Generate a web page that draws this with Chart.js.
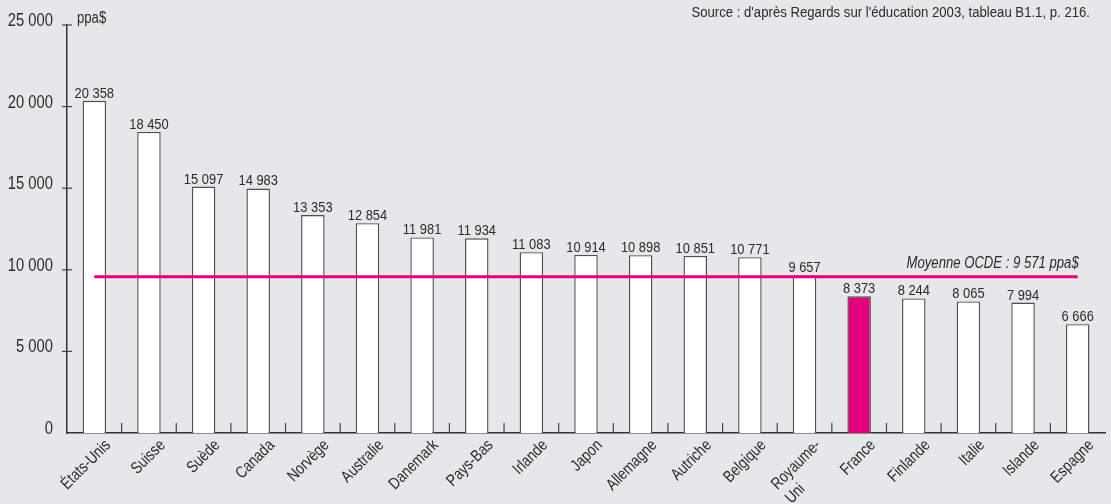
<!DOCTYPE html>
<html lang="fr">
<head>
<meta charset="utf-8">
<script src="https://cdn.jsdelivr.net/npm/chart.js@4/dist/chart.umd.min.js"></script>
<style>
  html, body { margin: 0; padding: 0; background: #e6e7e9; }
  #wrap { width: 1111px; height: 504px; position: relative; }
</style>
</head>
<body>
<div id="wrap"><canvas id="c" width="1111" height="504"></canvas></div>
<script>
const categories = ['États-Unis','Suisse','Suède','Canada','Norvège','Australie','Danemark','Pays-Bas','Irlande','Japon','Allemagne','Autriche','Belgique',['Royaume-','Uni'],'France','Finlande','Italie','Islande','Espagne'];
const values = [20358, 18450, 15097, 14983, 13353, 12854, 11981, 11934, 11083, 10914, 10898, 10851, 10771, 9657, 8373, 8244, 8065, 7994, 6666];
const highlighted = 'France';
const oecdAverage = 9571;
const averageLabel = 'Moyenne OCDE : 9 571 ppa$';
const yTicks = [0, 5000, 10000, 15000, 20000, 25000];
const unitLabel = 'ppa$';
const sourceText = "Source : d'après Regards sur l'éducation 2003, tableau B1.1, p. 216.";

const FONT = "'Liberation Sans', Arial, sans-serif";
const NARROW = 0.82;           // horizontal condensation to mimic a narrow face
const MAGENTA = '#e5007d';
const TEXT = '#2b2b2b';
const fmt = n => String(n).replace(/\B(?=(\d{3})+(?!\d))/g, ' ');

// draw condensed text at (x,y), optional rotation (radians)
function ntext(ctx, str, x, y, opts) {
  ctx.save();
  ctx.font = opts.font;
  ctx.textAlign = opts.align || 'left';
  ctx.textBaseline = opts.baseline || 'alphabetic';
  ctx.fillStyle = opts.color || TEXT;
  ctx.translate(x, y);
  if (opts.rotate) ctx.rotate(opts.rotate);
  ctx.scale(opts.scale || NARROW, 1);
  ctx.fillText(str, 0, 0);
  ctx.restore();
}

const decor = {
  id: 'decor',
  afterDatasetsDraw(chart) {
    const ctx = chart.ctx;
    const x = chart.scales.x, y = chart.scales.y;
    const area = chart.chartArea;
    ctx.save();
    // x-axis upward boundary ticks
    ctx.strokeStyle = '#444';
    ctx.lineWidth = 1.2;
    for (let i = 0; i < categories.length - 1; i++) {
      const px = (x.getPixelForValue(i) + x.getPixelForValue(i + 1)) / 2;
      ctx.beginPath();
      ctx.moveTo(px, area.bottom);
      ctx.lineTo(px, area.bottom - 10);
      ctx.stroke();
    }
    // y-axis tick marks crossing axis + labels
    y.ticks.forEach(t => {
      const py = y.getPixelForValue(t.value);
      if (t.value !== 0) {
        ctx.beginPath();
        ctx.moveTo(area.left - 5, py);
        ctx.lineTo(area.left + 5, py);
        ctx.stroke();
      }
      ntext(ctx, fmt(t.value), area.left - 14, py + 1, { font: '18px ' + FONT, align: 'right' });
    });
    ctx.restore();

    // x category labels (rotated 45°)
    const rot = -Math.PI / 4;
    categories.forEach((lab, i) => {
      const px = x.getPixelForValue(i) + 17;
      const py = area.bottom + 13;
      if (Array.isArray(lab)) {
        ntext(ctx, lab[0], px, py, { font: '16.5px ' + FONT, align: 'right', rotate: rot });
        ctx.save();
        ctx.font = '16.5px ' + FONT;
        const w = ctx.measureText(lab[0]).width * NARROW;
        ctx.restore();
        // second line: left-aligned with the first, one line lower
        const sx = px - w * Math.cos(Math.PI / 4) + 14;
        const sy = py + w * Math.sin(Math.PI / 4) + 14;
        ntext(ctx, lab[1], sx, sy, { font: '16.5px ' + FONT, align: 'left', rotate: rot });
      } else {
        ntext(ctx, lab, px, py, { font: '16.5px ' + FONT, align: 'right', rotate: rot });
      }
    });

    // value labels
    const meta = chart.getDatasetMeta(1);
    meta.data.forEach((bar, i) => {
      ntext(ctx, fmt(values[i]), bar.x, bar.y - 3, { font: '15px ' + FONT, align: 'center', scale: 0.86 });
    });
    // average label
    const lmeta = chart.getDatasetMeta(0);
    const last = lmeta.data[lmeta.data.length - 1];
    ntext(ctx, averageLabel, last.x + 1, last.y - 9, { font: 'italic 16px ' + FONT, align: 'right' });
    // unit label
    ntext(ctx, unitLabel, area.left + 10, y.getPixelForValue(25000) - 2, { font: '16px ' + FONT, align: 'left' });
    // source
    ntext(ctx, sourceText, 1090, 17, { font: '14px ' + FONT, align: 'right', scale: 0.94 });
  }
};

new Chart(document.getElementById('c'), {
  type: 'bar',
  data: {
    labels: categories,
    datasets: [
      {
        type: 'line',
        data: categories.map(() => oecdAverage),
        borderColor: MAGENTA,
        borderWidth: 3,
        pointRadius: 0,
        fill: false,
        order: 0
      },
      {
        type: 'bar',
        data: values,
        backgroundColor: categories.map(c => c === highlighted ? MAGENTA : '#ffffff'),
        borderColor: '#505050',
        borderWidth: 1.4,
        borderSkipped: 'bottom',
        categoryPercentage: 1,
        barPercentage: 0.43,
        order: 1
      }
    ]
  },
  options: {
    responsive: false,
    animation: false,
    devicePixelRatio: 1,
    layout: { padding: { top: 25, right: 6, left: 0, bottom: 0 } },
    plugins: { legend: { display: false }, tooltip: { enabled: false } },
    scales: {
      x: {
        grid: { display: false },
        border: { display: true, color: '#333', width: 1.5 },
        ticks: { display: false, autoSkip: false },
        afterFit(s) { s.height = 71; }
      },
      y: {
        min: 0,
        max: 25000,
        grid: { display: false },
        border: { display: true, color: '#333', width: 1.5 },
        afterBuildTicks(s) { s.ticks = yTicks.map(v => ({ value: v })); },
        ticks: { display: false },
        afterFit(s) { s.width = 67; }
      }
    }
  },
  plugins: [decor]
});
</script>
</body>
</html>
